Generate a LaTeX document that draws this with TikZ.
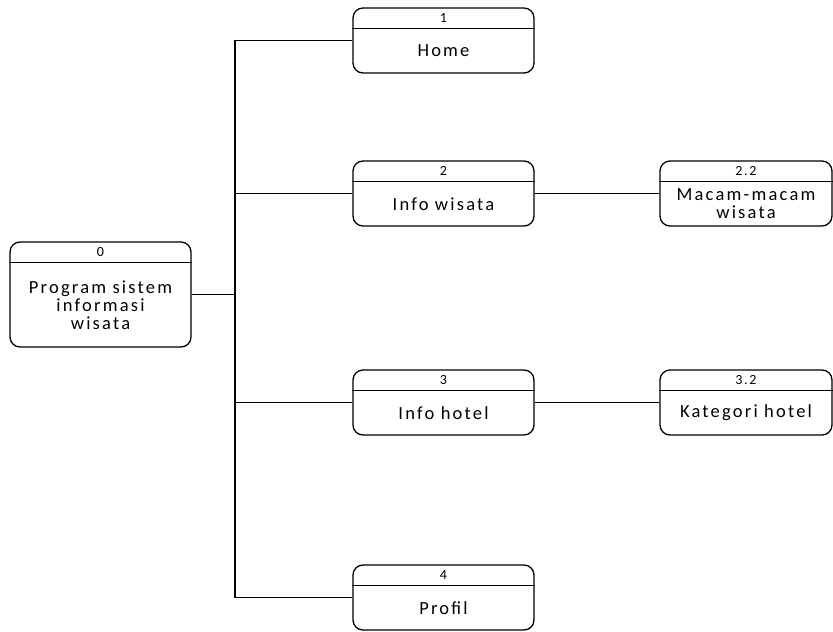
\documentclass[tikz,border=0pt]{standalone}
\usepackage{fontspec}
\setmainfont{Carlito}[LetterSpace=12]
\usetikzlibrary{positioning}

\tikzset{
  proc/.style={draw, rounded corners=10pt, line width=1.3pt, minimum width=181pt, minimum height=65pt, inner sep=0pt},
  num/.style={font=\fontsize{14}{16}\selectfont, inner sep=0pt},
  lbl/.style={font=\fontsize{18.5}{18}\selectfont, align=center, inner sep=0pt},
  link/.style={line width=1.3pt}
}

\begin{document}
\begin{tikzpicture}[x=1pt, y=-1pt]
  \useasboundingbox (0,0) rectangle (833,632);

  % nodes
  \node[proc, minimum height=105pt] (p0) at (100.5,294.5) {};
  \node[proc] (p1) at (443.5,40.5) {};
  \node[proc] (p2) at (443.5,193.5) {};
  \node[proc] (p3) at (443.5,402.5) {};
  \node[proc] (p4) at (443.5,597.5) {};
  \node[proc, minimum width=172pt] (p22) at (746,193.5) {};
  \node[proc, minimum width=172pt] (p32) at (746,402.5) {};
  \coordinate (tr) at (235,0);

  % headers
  \foreach \p/\n in {p0/0, p1/1, p2/2, p3/3, p4/4, p22/2.2, p32/3.2} {
    \draw[link] ([yshift=-21pt]\p.north west) -- ([yshift=-21pt]\p.north east);
    \node[num] at ([yshift=-10.5pt]\p.north) {\n};
  }

  % labels
  \node[lbl] (t0) at ([yshift=-10.5pt]p0.center) {Program sistem\\informasi\\wisata};
  \node[lbl] (t1) at ([yshift=-10.5pt]p1.center) {Home};
  \node[lbl] (t2) at ([yshift=-10.5pt]p2.center) {Info wisata};
  \node[lbl] (t3) at ([yshift=-10.5pt]p3.center) {Info hotel};
  \node[lbl] (t4) at ([yshift=-10.5pt]p4.center) {Profil};
  \node[lbl] (t22) at ([yshift=-10.5pt]p22.center) {Macam-macam\\wisata};
  \node[lbl] (t32) at ([yshift=-10.5pt]p32.center) {Kategori hotel};

  % edges
  \draw[link] (p1.west) -- (p1.west -| tr) -- (p4.west -| tr) -- (p4.west);
  \draw[link] (p0.east) -- (p0.east -| tr);
  \draw[link] (p2.west -| tr) -- (p2.west);
  \draw[link] (p3.west -| tr) -- (p3.west);
  \draw[link] (p2.east) -- (p22.west);
  \draw[link] (p3.east) -- (p32.west);
\end{tikzpicture}
\end{document}
